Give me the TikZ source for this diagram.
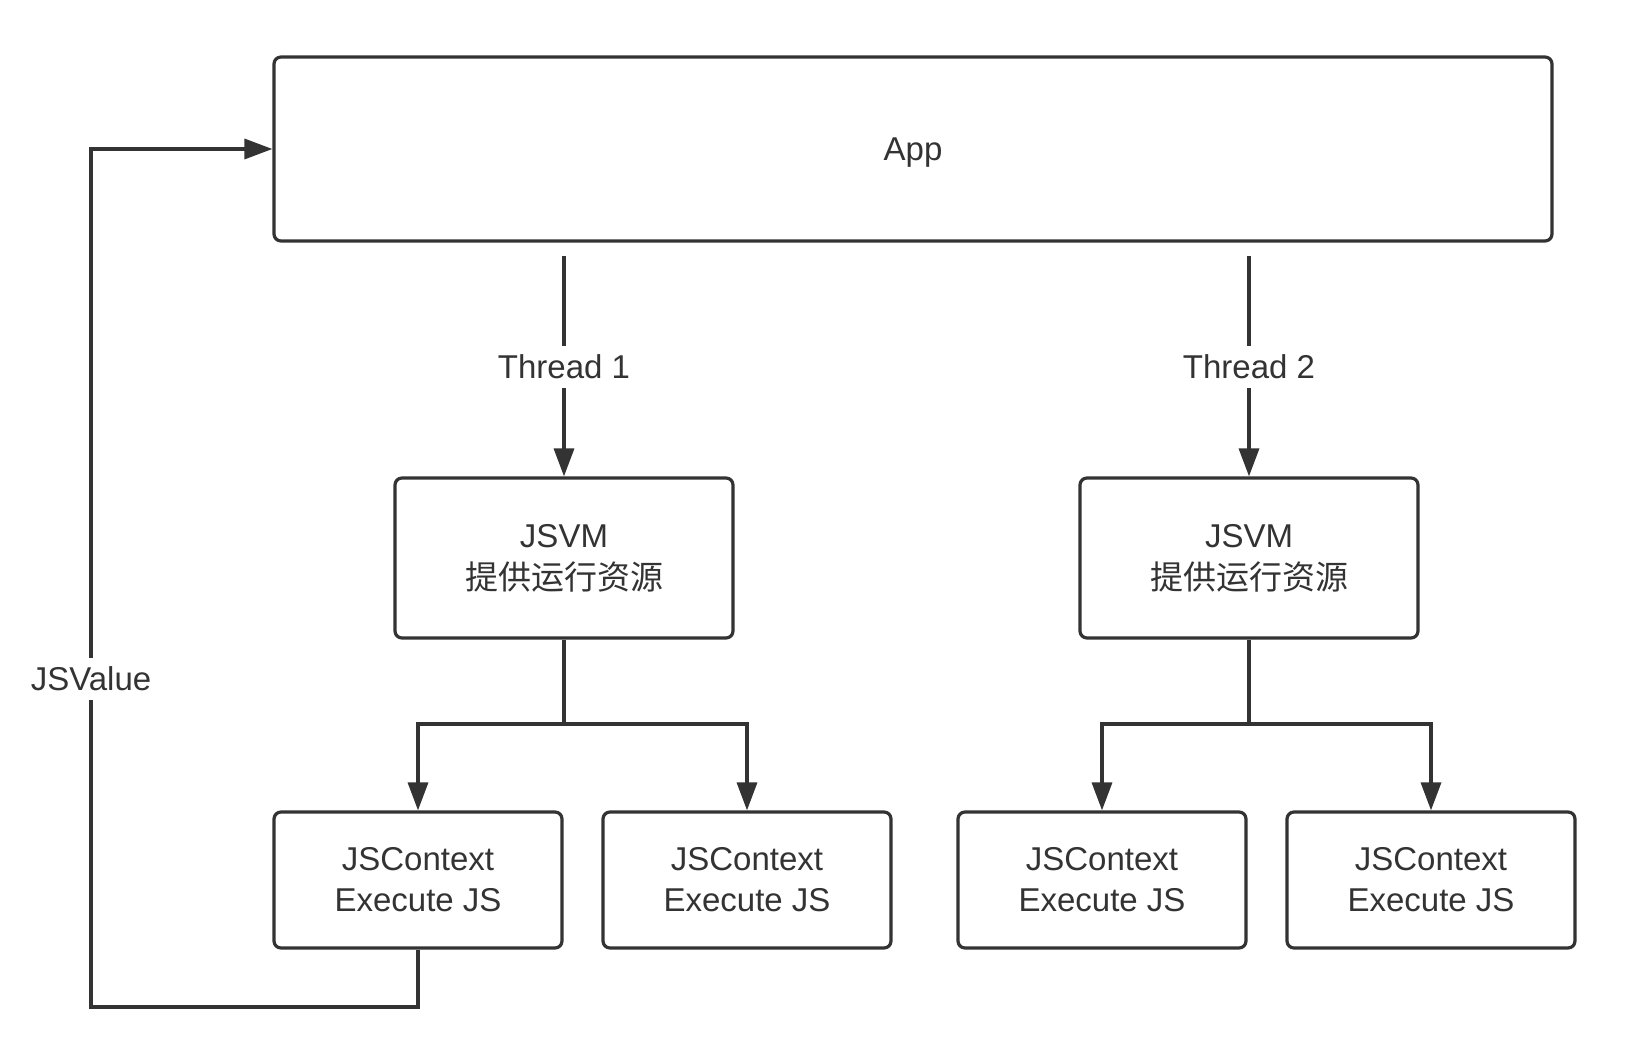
\documentclass[tikz,border=0pt]{standalone}
\usepackage{fontspec}
\setmainfont{Liberation Sans}
\newfontfamily\cjk{Noto Sans CJK SC}
\usetikzlibrary{arrows.meta}
\definecolor{ink}{HTML}{333333}
\begin{document}
\begin{tikzpicture}[x=1pt,y=-1pt,
  box/.style={draw=ink,line width=3.2pt,rounded corners=7pt,align=center,text=ink,inner sep=0pt},
  conn/.style={draw=ink,line width=3.4pt,-{Triangle[length=28pt,width=20pt]}},
  plain/.style={draw=ink,line width=3.4pt},
  lbl/.style={text=ink,inner sep=0pt,minimum height=42pt,font=\fontsize{33}{40}\selectfont}]
\useasboundingbox (0,0) rectangle (1634,1064);
\fill[white] (0,0) rectangle (1634,1064);
\node[box,minimum width=1278pt,minimum height=184pt,text depth=0pt,font=\fontsize{33}{40}\selectfont] (app) at (913,149) {App};
\node[box,minimum width=338pt,minimum height=160pt,font=\fontsize{33}{44}\selectfont] (vm1) at (564,558) {JSVM\\[-2pt]{\cjk 提供运行资源}};
\node[box,minimum width=338pt,minimum height=160pt,font=\fontsize{33}{44}\selectfont] (vm2) at (1249,558) {JSVM\\[-2pt]{\cjk 提供运行资源}};
\node[box,minimum width=288pt,minimum height=136pt,font=\fontsize{33}{41}\selectfont] (c11) at (418,880) {JSContext\\Execute JS};
\node[box,minimum width=288pt,minimum height=136pt,font=\fontsize{33}{41}\selectfont] (c12) at (747,880) {JSContext\\Execute JS};
\node[box,minimum width=288pt,minimum height=136pt,font=\fontsize{33}{41}\selectfont] (c21) at (1102,880) {JSContext\\Execute JS};
\node[box,minimum width=288pt,minimum height=136pt,font=\fontsize{33}{41}\selectfont] (c22) at (1431,880) {JSContext\\Execute JS};
\node[lbl] (th1) at (564,367) {Thread 1};
\node[lbl] (th2) at (1249,367) {Thread 2};
\node[lbl] (jsv) at (91,679) {JSValue};
\coordinate (t1) at (564,256);
\coordinate (t2) at (1249,256);
\coordinate (b1) at (564,724);
\coordinate (b2) at (1249,724);
\coordinate (fb) at (91,1007);
\draw[plain] (t1) -- (th1.north);
\draw[conn] (th1.south) -- (vm1.north);
\draw[plain] (t2) -- (th2.north);
\draw[conn] (th2.south) -- (vm2.north);
\draw[plain] (vm1.south) -- (b1);
\draw[plain] (vm2.south) -- (b2);
\draw[conn] (b1) -| (c11.north);
\draw[conn] (b1) -| (c12.north);
\draw[conn] (b2) -| (c21.north);
\draw[conn] (b2) -| (c22.north);
\draw[plain] (c11.south) |- (fb) -- (jsv.south);
\draw[conn] (jsv.north) |- (app.west);
\end{tikzpicture}
\end{document}
